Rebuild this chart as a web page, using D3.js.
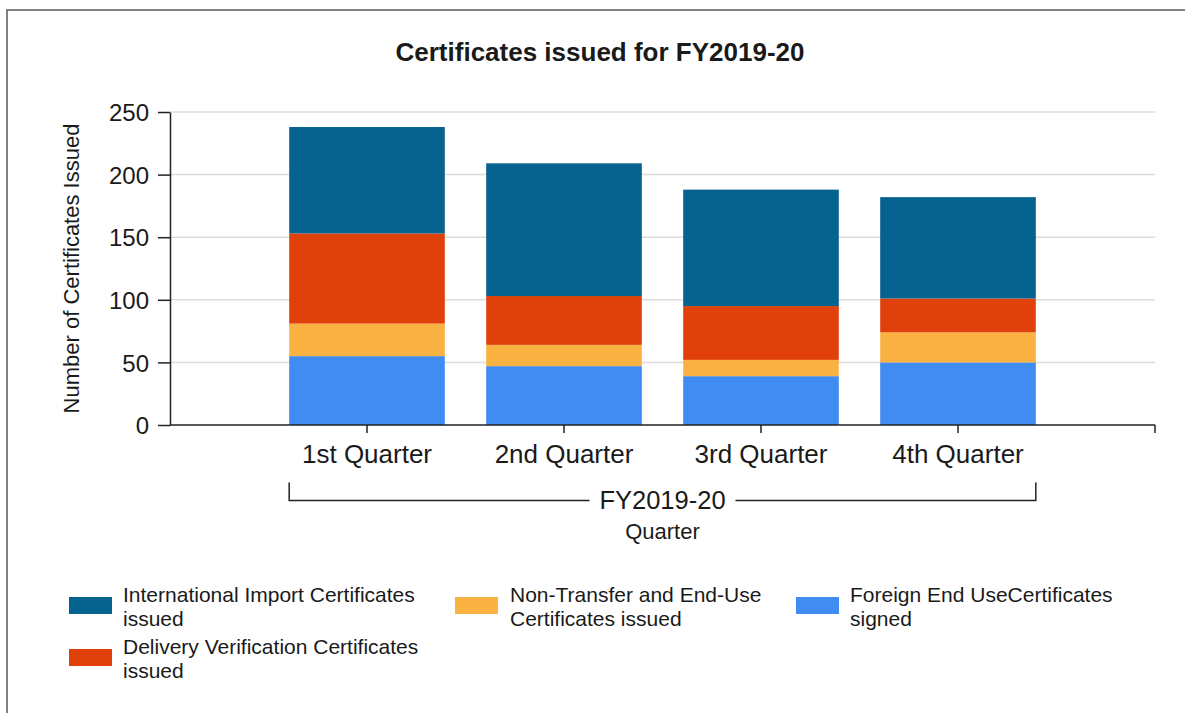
<!DOCTYPE html>
<html>
<head>
<meta charset="utf-8">
<script src="https://cdn.jsdelivr.net/npm/d3@7"></script>
<style>
  html, body { margin: 0; padding: 0; background: #fff; }
  svg { display: block; }
  text { font-family: "Liberation Sans", Arial, sans-serif; fill: #1a1a1a; }
</style>
</head>
<body>
<svg id="chart" width="1185" height="713"></svg>
<script>
// ---- Data ----
const quarters = ["1st Quarter", "2nd Quarter", "3rd Quarter", "4th Quarter"];
const foreignEndUse = [55, 47, 39, 50];        // Foreign End UseCertificates signed
const nonTransfer = [26, 17, 13, 24];          // Non-Transfer and End-Use Certificates issued
const deliveryVerification = [72, 39, 43, 27]; // Delivery Verification Certificates issued
const internationalImport = [85, 106, 93, 81]; // International Import Certificates issued
const yTicks = [0, 50, 100, 150, 200, 250];
const groupLabel = "FY2019-20";

const seriesKeys = ["foreign", "nonTransfer", "delivery", "international"]; // stack order bottom->top
const seriesNames = {
  international: ["International Import Certificates", "issued"],
  nonTransfer: ["Non-Transfer and End-Use", "Certificates issued"],
  foreign: ["Foreign End UseCertificates", "signed"],
  delivery: ["Delivery Verification Certificates", "issued"]
};
const colors = {
  international: "#06638F",
  delivery: "#E0410B",
  nonTransfer: "#FAB343",
  foreign: "#418CF0"
};
const legendOrder = ["international", "nonTransfer", "foreign", "delivery"];

const table = quarters.map((q, i) => ({
  quarter: q,
  foreign: foreignEndUse[i],
  nonTransfer: nonTransfer[i],
  delivery: deliveryVerification[i],
  international: internationalImport[i]
}));

// ---- Layout ----
const svg = d3.select("#chart");
const plot = { left: 170, right: 1155, top: 112, bottom: 425 };
const slot = (plot.right - plot.left) / 5;

const x = d3.scaleBand()
  .domain(quarters)
  .range([plot.left + slot / 2, plot.right - slot / 2])
  .paddingInner(0.21)
  .paddingOuter(0.105);

const y = d3.scaleLinear().domain([0, 250]).range([plot.bottom, plot.top]);

// Frame
svg.append("rect")
  .attr("x", 7).attr("y", 10).attr("width", 1250).attr("height", 800)
  .attr("fill", "none").attr("stroke", "#5a5a5a").attr("stroke-width", 1.5);

// Title
svg.append("text")
  .attr("x", 600).attr("y", 61)
  .attr("text-anchor", "middle")
  .style("font-size", "26px").style("font-weight", "bold")
  .text("Certificates issued for FY2019-20");

// Gridlines
svg.append("g")
  .selectAll("line")
  .data(yTicks.filter(d => d > 0))
  .join("line")
  .attr("x1", plot.left).attr("x2", plot.right)
  .attr("y1", d => y(d)).attr("y2", d => y(d))
  .attr("stroke", "#dcdcdc").attr("stroke-width", 1.5);

// Bars
const stacked = d3.stack().keys(seriesKeys)(table);
svg.append("g")
  .selectAll("g")
  .data(stacked)
  .join("g")
  .attr("fill", d => colors[d.key])
  .selectAll("rect")
  .data(d => d)
  .join("rect")
  .attr("x", d => x(d.data.quarter))
  .attr("width", x.bandwidth())
  .attr("y", d => y(d[1]))
  .attr("height", d => y(d[0]) - y(d[1]));

// Y axis
const yAxis = svg.append("g")
  .attr("transform", `translate(${plot.left},0)`)
  .call(d3.axisLeft(y).tickValues(yTicks).tickSize(12).tickSizeOuter(0).tickPadding(9));
yAxis.select(".domain").attr("stroke", "#222").attr("stroke-width", 1.5);
yAxis.selectAll(".tick line").attr("stroke", "#222").attr("stroke-width", 1.5);
yAxis.selectAll(".tick text")
  .style("font-size", "24px").style("font-family", "'Liberation Sans', Arial, sans-serif")
  .attr("fill", "#1a1a1a").attr("dy", "0.36em");

// X axis (linear slots 0..5, categories at 1..4)
const xSlots = d3.scaleLinear().domain([0, 5]).range([plot.left, plot.right]);
const xAxis = svg.append("g")
  .attr("transform", `translate(0,${plot.bottom})`)
  .call(d3.axisBottom(x).tickSize(8).tickSizeOuter(0).tickPadding(12));
xAxis.select(".domain").attr("d", `M${plot.left},0H${plot.right}`).attr("stroke", "#222").attr("stroke-width", 1.5);
xAxis.selectAll(".tick line").attr("stroke", "#222").attr("stroke-width", 1.5);
xAxis.selectAll(".tick text")
  .style("font-size", "26px").style("font-family", "'Liberation Sans', Arial, sans-serif")
  .attr("fill", "#1a1a1a");
xAxis.append("line")
  .attr("x1", xSlots(5)).attr("x2", xSlots(5)).attr("y1", 0).attr("y2", 8)
  .attr("stroke", "#222").attr("stroke-width", 1.5);

// Group bracket
const bx0 = x(quarters[0]);
const bx1 = x(quarters[quarters.length - 1]) + x.bandwidth();
const bMid = (bx0 + bx1) / 2;
const bY = 500.5;
const gap = 73;
const bracket = svg.append("g").attr("stroke", "#222").attr("stroke-width", 1.5).attr("fill", "none");
bracket.append("path").attr("d", `M${bx0},${bY - 18}V${bY}H${bMid - gap}`);
bracket.append("path").attr("d", `M${bMid + gap},${bY}H${bx1}V${bY - 18}`);
svg.append("text")
  .attr("x", bMid).attr("y", bY + 8)
  .attr("text-anchor", "middle")
  .style("font-size", "25.5px")
  .text(groupLabel);

// X axis title
svg.append("text")
  .attr("x", bMid).attr("y", 539)
  .attr("text-anchor", "middle")
  .style("font-size", "22px")
  .text("Quarter");

// Y axis title
svg.append("text")
  .attr("transform", `translate(79,${(plot.top + plot.bottom) / 2}) rotate(-90)`)
  .attr("text-anchor", "middle")
  .style("font-size", "22px")
  .text("Number of Certificates Issued");

// Legend
const legendPos = {
  international: { sx: 69, tx: 123, y: 597 },
  nonTransfer: { sx: 455, tx: 510, y: 597 },
  foreign: { sx: 796, tx: 850, y: 597 },
  delivery: { sx: 69, tx: 123, y: 649 }
};
const legend = svg.append("g");
legendOrder.forEach(k => {
  const p = legendPos[k];
  legend.append("rect")
    .attr("x", p.sx).attr("y", p.y).attr("width", 43).attr("height", 17)
    .attr("fill", colors[k]);
  const t = legend.append("text")
    .attr("x", p.tx).attr("y", p.y + 5)
    .style("font-size", "21px");
  seriesNames[k].forEach((line, i) => {
    t.append("tspan").attr("x", p.tx).attr("dy", i === 0 ? 0 : 24).text(line);
  });
});
</script>
</body>
</html>
